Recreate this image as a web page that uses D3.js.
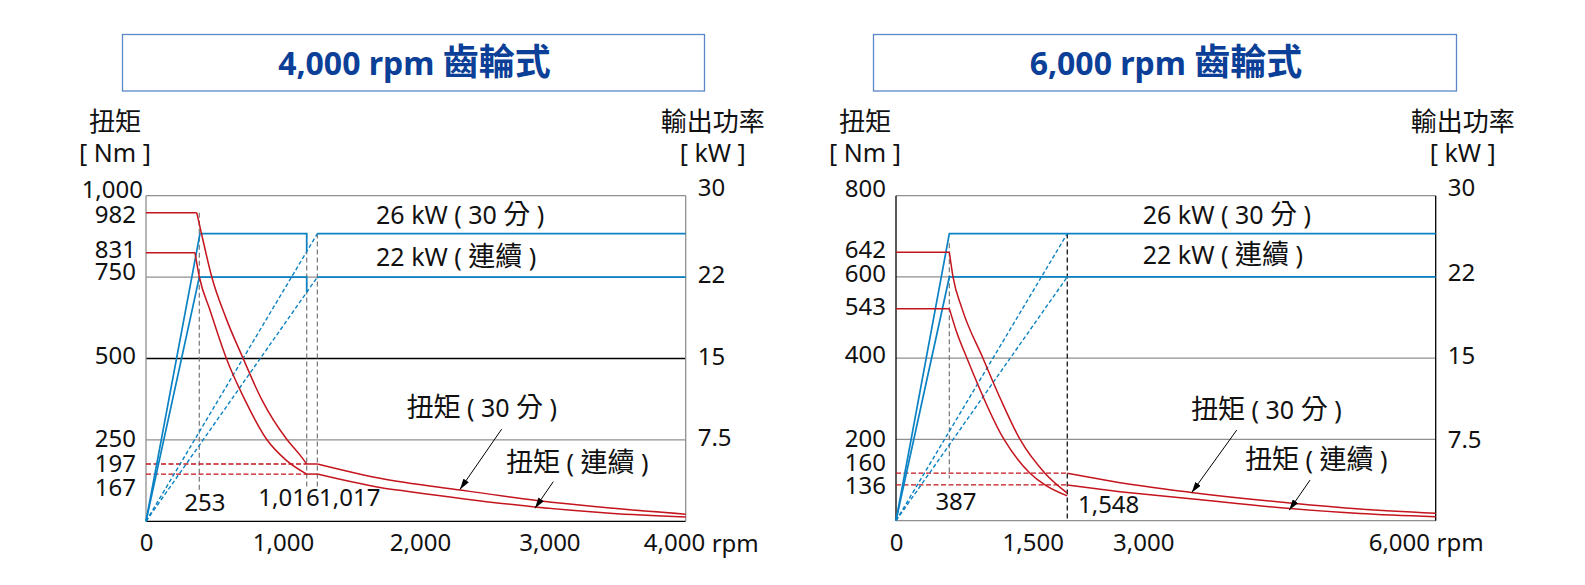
<!DOCTYPE html>
<html><head><meta charset="utf-8">
<script src="https://cdn.jsdelivr.net/npm/d3@7"></script>
<style>body{margin:0;background:#fff} svg{display:block}</style>
</head><body><svg id="c" width="1585" height="585"></svg>
<script>
// ================= DATA =================
const kwMax = 30;
const kwTickLabels = ["30","22","15","7.5"];
const axisTitleTorque = ["扭矩", "[ Nm ]"];
const axisTitlePower = ["輸出功率", "[ kW ]"];
const rpmUnit = "rpm";

// ---- 4,000 rpm chart ----
const titleL = "4,000 rpm 齒輪式";
const rpmMaxL = 4000, nmMaxL = 1000;
const xTickPosL = [0, 1015, 2031, 2990, 3913];
const xTickLabelsL = ["0","1,000","2,000","3,000","4,000"];
const yTickPosL = [1019, 941, 833, 766, 508, 253, 178, 102];
const yTickLabelsL = ["1,000","982","831","750","500","250","197","167"];
const gridL = [1000, 750, 500, 250, 0];
const gridDarkL = [500, 0];
const kwTickPosL = [30.7, 22.7, 15.2, 7.65];
const torque30L = [[0,948],[376,948],[422,864],[487,751],[593,624],[719,501],[860,372],[1043,252],[1141,204],[1191,176]];
const torque30TailL = [[1191,176],[1270,176],[1734,132],[2327,96],[2883,65],[3439,41],[4000,22]];
const torqueContL = [[0,825],[363,825],[395,751],[474,649],[595,501],[734,372],[894,252],[1038,188],[1191,145]];
const torqueContTailL = [[1191,145],[1270,145],[1734,104],[1957,91],[2883,44],[3439,25],[4000,13]];
const torqueDashLevelsL = [176, 145];
const torqueDashEndL = 1191;
const power30L = [[0,0],[400,26.5],[1191,26.5],[1191,24.9]];
const power30TailL = [[1270,26.5],[4000,26.5]];
const powerContL = [[0,0],[395,22.5],[1191,22.5],[1191,21.15]];
const powerContTailL = [[1270,22.5],[4000,22.5]];
const powerRampsL = [[[0,0],[1270,26.5]], [[0,0],[1270,22.5]]];
const speedMarksL = [[395, 948, 96], [1191, 884, 99], [1270, 884, 99]];
const annotTextL = ["26 kW ( 30 分 )", "22 kW ( 連續 )", "扭矩 ( 30 分 )", "扭矩 ( 連續 )"];
const annotPosL = [[1705, 930], [1705, 802], [1930, 337], [2668, 168]];
const speedTextL = ["253", "1,016", "1,017"];
const speedTextPosL = [[437, 56], [1060, 72], [1510, 72]];
const arrowsL = [[[2636,283],[2327,98]], [[3019,122],[2883,40]]];

// ---- 6,000 rpm chart ----
const titleR = "6,000 rpm 齒輪式";
const rpmMaxR = 6000, nmMaxR = 800;
const xTickPosR = [0, 1520, 2749, 5590];
const xTickLabelsR = ["0","1,500","3,000","6,000"];
const yTickPosR = [818, 666, 607, 527, 408, 201, 143, 85];
const yTickLabelsR = ["800","642","600","543","400","200","160","136"];
const gridR = [800, 600, 400, 200, 0];
const gridDarkR = [];
const kwTickPosR = [30.7, 22.9, 15.2, 7.45];
const torque30R = [[0,661],[593,661],[634,600],[734,522],[967,400],[1167,297],[1379,200],[1656,117],[1904,68]];
const torque30TailR = [[1904,117],[2490,93.5],[3302,69],[4380,43.6],[5158,28.8],[6000,18.2]];
const torqueContR = [[0,522],[593,522],[667,469],[789,400],[1201,200],[1490,117],[1656,88],[1904,61]];
const torqueContTailR = [[1904,88],[2490,71.4],[3302,53.4],[4380,30],[5158,17.7],[6000,9.8]];
const torqueDashLevelsR = [117, 88];
const torqueDashEndR = 1904;
const power30R = [[0,0],[593,26.5],[6000,26.5]];
const power30TailR = [];
const powerContR = [[0,0],[593,22.5],[6000,22.5]];
const powerContTailR = [];
const powerRampsR = [[[0,0],[1904,26.5]], [[0,0],[1904,22.5]]];
const speedMarksR = [[593, 683, 104], [1904, 707, 0]];
const annotTextR = ["26 kW ( 30 分 )", "22 kW ( 連續 )", "扭矩 ( 30 分 )", "扭矩 ( 連續 )"];
const annotPosR = [[2743, 744], [2743, 646], [3280, 264], [3880, 141]];
const speedTextR = ["387", "1,548"];
const speedTextPosR = [[667, 47], [2023, 39]];
const arrowsR = [[[3788,223],[3287,69]], [[4603,100],[4372,26]]];

// ================= DRAWING =================
const RED = "#c4141d", BLUE = "#0b82c4", GREY = "#8f8f8f", TITLE = "#0c3f97";
const LATIN = '"Noto Sans", "Noto Sans CJK TC", sans-serif';
const CJK = '"Noto Sans CJK TC", "Noto Sans", sans-serif';
const svg = d3.select("#c");
const defs = svg.append("defs");
defs.append("marker").attr("id","arr").attr("viewBox","0 0 10 6")
  .attr("refX",10).attr("refY",3).attr("markerWidth",11).attr("markerHeight",6.5)
  .attr("markerUnits","userSpaceOnUse").attr("orient","auto")
  .append("path").attr("d","M0,0 L10,3 L0,6 Z").attr("fill","#000");

const isCJK = s => /[\u2E80-\u9FFF\uF900-\uFAFF]/.test(s);
function mixed(textSel, str, latinSize, cjkSize, weight) {
  const parts = str.split(/([\u2E80-\u9FFF\uF900-\uFAFF]+)/).filter(p => p.length);
  parts.forEach(p => {
    textSel.append("tspan").text(p)
      .attr("font-family", isCJK(p) ? CJK : LATIN)
      .attr("font-size", isCJK(p) ? cjkSize : latinSize)
      .attr("font-weight", weight || 400);
  });
  return textSel;
}

function drawChart(cfg) {
  const g = svg.append("g");
  const x = d3.scaleLinear().domain([0, cfg.rpmMax]).range([cfg.left, cfg.right]);
  const y = d3.scaleLinear().domain([0, cfg.nmMax]).range([cfg.bottom, cfg.top]);
  const yk = d3.scaleLinear().domain([0, kwMax]).range([cfg.bottom, cfg.top]);
  const lineT = d3.line().x(d => x(d[0])).y(d => y(d[1]));
  const lineTc = d3.line().x(d => x(d[0])).y(d => y(d[1])).curve(d3.curveMonotoneX);
  const lineK = d3.line().x(d => x(d[0])).y(d => yk(d[1]));

  // title box
  g.append("rect").attr("x", cfg.boxX0).attr("y", 34.5).attr("width", cfg.boxX1 - cfg.boxX0).attr("height", 56.5)
    .attr("fill", "none").attr("stroke", "#5a88c8").attr("stroke-width", 1.3);
  const tt = g.append("text").attr("x", (cfg.boxX0 + cfg.boxX1) / 2 + 1).attr("y", 75)
    .attr("text-anchor", "middle").attr("fill", TITLE);
  mixed(tt, cfg.title, 32, 36, 700);

  // grid lines
  cfg.grid.forEach(v => {
    g.append("line").attr("x1", cfg.left).attr("x2", cfg.right).attr("y1", y(v)).attr("y2", y(v))
      .attr("stroke", cfg.gridDark.includes(v) ? "#000" : GREY).attr("stroke-width", 1.3);
  });
  g.append("line").attr("x1", cfg.left).attr("x2", cfg.left).attr("y1", cfg.top).attr("y2", cfg.bottom)
    .attr("stroke", cfg.borderDark ? "#000" : GREY).attr("stroke-width", 1.3);
  g.append("line").attr("x1", cfg.right).attr("x2", cfg.right).attr("y1", cfg.top).attr("y2", cfg.bottom)
    .attr("stroke", cfg.borderDark ? "#000" : GREY).attr("stroke-width", 1.3);

  // speed marker dashed verticals
  cfg.speedMarks.forEach((m, i) => {
    g.append("line").attr("x1", x(m[0])).attr("x2", x(m[0])).attr("y1", y(m[1])).attr("y2", y(m[2]))
      .attr("stroke", (cfg.lastMarkDark && i === cfg.speedMarks.length - 1) ? "#000" : "#777")
      .attr("stroke-width", 1.2).attr("stroke-dasharray", "5,3");
  });

  // red dashed torque levels
  cfg.dashLevels.forEach(v => {
    g.append("line").attr("x1", x(0)).attr("x2", x(cfg.dashEnd)).attr("y1", y(v)).attr("y2", y(v))
      .attr("stroke", RED).attr("stroke-width", 1.3).attr("stroke-dasharray", "5,2.5");
  });

  // power
  cfg.powerRamps.forEach(r => g.append("path").attr("d", lineK(r)).attr("fill", "none")
    .attr("stroke", BLUE).attr("stroke-width", 1.4).attr("stroke-dasharray", "4,2.5"));
  [cfg.power30, cfg.power30Tail, cfg.powerCont, cfg.powerContTail].forEach(p => {
    if (p.length) g.append("path").attr("d", lineK(p)).attr("fill", "none")
      .attr("stroke", BLUE).attr("stroke-width", 1.7).attr("stroke-linejoin", "miter");
  });

  // torque
  [cfg.torque30, cfg.torqueCont, cfg.torque30Tail, cfg.torqueContTail].forEach(p => {
    const flat = p.slice(0, 2), curve = p.slice(1);
    g.append("path").attr("d", lineT(flat)).attr("fill", "none").attr("stroke", RED).attr("stroke-width", 1.5);
    g.append("path").attr("d", lineTc(curve)).attr("fill", "none").attr("stroke", RED).attr("stroke-width", 1.5);
  });

  // left axis labels
  const ax = g.append("g").attr("transform", `translate(${cfg.left},0)`)
    .call(d3.axisLeft(y).tickValues(cfg.yTickPos).tickFormat((d, i) => cfg.yTickLabels[i]).tickSize(0).tickPadding(10));
  ax.select(".domain").remove();
  ax.selectAll("text").attr("font-size", 24).attr("font-family", LATIN).attr("fill", "#111")
    .attr("dx", (d, i) => (i === 0 && cfg.firstDx) ? cfg.firstDx : 0);

  // right axis labels
  const axr = g.append("g").attr("transform", `translate(${cfg.right},0)`)
    .call(d3.axisRight(yk).tickValues(cfg.kwTickPos).tickFormat((d, i) => kwTickLabels[i]).tickSize(0).tickPadding(12));
  axr.select(".domain").remove();
  axr.selectAll("text").attr("font-size", 24).attr("font-family", LATIN).attr("fill", "#111");

  // bottom axis labels
  const axb = g.append("g").attr("transform", `translate(0,${cfg.bottom})`)
    .call(d3.axisBottom(x).tickValues(cfg.xTickPos).tickFormat((d, i) => cfg.xTickLabels[i]).tickSize(0).tickPadding(13));
  axb.select(".domain").remove();
  axb.selectAll("text").attr("font-size", 24).attr("font-family", LATIN).attr("fill", "#111");
  const lastLbl = axb.selectAll("text").nodes().pop();
  const lw = lastLbl.getComputedTextLength();
  g.append("text").attr("x", x(cfg.xTickPos[cfg.xTickPos.length - 1]) + lw / 2 + 7).attr("y", cfg.bottom + 22)
    .attr("dy", "0.35em").attr("font-size", 24).attr("font-family", LATIN).attr("fill", "#111").text(rpmUnit);

  // axis titles
  const tX = cfg.left - 31, pX = cfg.right + 27;
  mixed(g.append("text").attr("x", tX).attr("y", 131).attr("text-anchor", "middle").attr("fill", "#111"), axisTitleTorque[0], 25, 26);
  mixed(g.append("text").attr("x", tX).attr("y", 162).attr("text-anchor", "middle").attr("fill", "#111"), axisTitleTorque[1], 25, 26);
  mixed(g.append("text").attr("x", pX).attr("y", 131).attr("text-anchor", "middle").attr("fill", "#111"), axisTitlePower[0], 25, 26);
  mixed(g.append("text").attr("x", pX).attr("y", 162).attr("text-anchor", "middle").attr("fill", "#111"), axisTitlePower[1], 25, 26);

  // annotations
  cfg.annotText.forEach((t, i) => {
    const p = cfg.annotPos[i];
    mixed(g.append("text").attr("x", x(p[0])).attr("y", y(p[1])).attr("dy", "0.35em").attr("fill", "#111"), t, 25, 27);
  });
  cfg.speedText.forEach((t, i) => {
    const p = cfg.speedTextPos[i];
    const anchor = (cfg.speedStartLast && i === cfg.speedText.length - 1) ? "start" : "middle";
    g.append("text").attr("x", x(p[0])).attr("y", y(p[1])).attr("dy", "0.35em").attr("text-anchor", anchor)
      .attr("font-size", 24).attr("font-family", LATIN).attr("fill", "#111").text(t);
  });
  cfg.arrows.forEach(a => {
    g.append("line").attr("x1", x(a[0][0])).attr("y1", y(a[0][1])).attr("x2", x(a[1][0])).attr("y2", y(a[1][1]))
      .attr("stroke", "#000").attr("stroke-width", 1).attr("marker-end", "url(#arr)");
  });
}

drawChart({
  title: titleL, rpmMax: rpmMaxL, nmMax: nmMaxL,
  left: 146, right: 685.7, top: 195.7, bottom: 521.3, boxX0: 122.5, boxX1: 704.5,
  xTickPos: xTickPosL, xTickLabels: xTickLabelsL, yTickPos: yTickPosL, yTickLabels: yTickLabelsL,
  grid: gridL, gridDark: gridDarkL, borderDark: false, kwTickPos: kwTickPosL,
  torque30: torque30L, torque30Tail: torque30TailL, torqueCont: torqueContL, torqueContTail: torqueContTailL,
  dashLevels: torqueDashLevelsL, dashEnd: torqueDashEndL,
  power30: power30L, power30Tail: power30TailL, powerCont: powerContL, powerContTail: powerContTailL,
  powerRamps: powerRampsL, speedMarks: speedMarksL, lastMarkDark: false,
  annotText: annotTextL, annotPos: annotPosL, speedText: speedTextL, speedTextPos: speedTextPosL,
  speedStartLast: false, arrows: arrowsL, firstDx: 7
});
drawChart({
  title: titleR, rpmMax: rpmMaxR, nmMax: nmMaxR,
  left: 896, right: 1435.7, top: 195.7, bottom: 520.7, boxX0: 873.5, boxX1: 1456.5,
  xTickPos: xTickPosR, xTickLabels: xTickLabelsR, yTickPos: yTickPosR, yTickLabels: yTickLabelsR,
  grid: gridR, gridDark: gridDarkR, borderDark: true, kwTickPos: kwTickPosR,
  torque30: torque30R, torque30Tail: torque30TailR, torqueCont: torqueContR, torqueContTail: torqueContTailR,
  dashLevels: torqueDashLevelsR, dashEnd: torqueDashEndR,
  power30: power30R, power30Tail: power30TailR, powerCont: powerContR, powerContTail: powerContTailR,
  powerRamps: powerRampsR, speedMarks: speedMarksR, lastMarkDark: true,
  annotText: annotTextR, annotPos: annotPosR, speedText: speedTextR, speedTextPos: speedTextPosR,
  speedStartLast: true, arrows: arrowsR, firstDx: 0
});
</script></body></html>
